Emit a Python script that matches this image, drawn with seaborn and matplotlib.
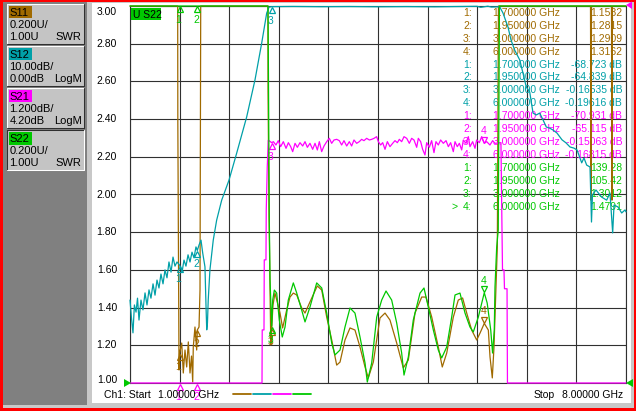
import numpy as np
import pandas as pd
import matplotlib
matplotlib.use("Agg")
import matplotlib.pyplot as plt
import matplotlib.transforms as mtransforms
from matplotlib.patches import Rectangle, Polygon
from matplotlib.lines import Line2D
import seaborn as sns

# ---------------------------------------------------------------- data
freq_grid = [1.0, 1.7, 2.4, 3.1, 3.8, 4.5, 5.2, 5.9, 6.6, 7.3, 8.0]
swr_ticks = [1.00, 1.20, 1.40, 1.60, 1.80, 2.00, 2.20, 2.40, 2.60, 2.80, 3.00]
swr_labels = ["1.00", "1.20", "1.40", "1.60", "1.80", "2.00", "2.20", "2.40", "2.60", "2.80", "3.00"]

trace_names = ["S11", "S12", "S21", "S22"]
trace_scale = ["0.200U/", "10.00dB/", "1.200dB/", "0.200U/"]
trace_ref = ["1.00U", "0.00dB", "4.20dB", "1.00U"]
trace_format = ["SWR", "LogM", "LogM", "SWR"]

marker_freq = [1.7, 1.95, 3.0, 6.0]
s11_marker = [1.1582, 1.2815, 1.2909, 1.3162]
s12_marker = [-68.723, -64.839, -0.16535, -0.19616]
s21_marker = [-70.931, -65.115, -0.15063, -0.16815]
s22_marker = [139.28, 105.42, 1.3012, 1.4791]

s11_freq = [1.000, 1.400, 1.673, 1.675, 1.692, 1.700, 1.730, 1.752, 1.776, 1.800,
            1.823, 1.847, 1.868, 1.885, 1.893, 1.917, 1.941, 1.950, 1.974, 1.988,
            1.998, 2.500, 2.946, 2.948, 2.962, 2.976, 2.987, 3.000, 3.018, 3.046,
            3.089, 3.117, 3.154, 3.211, 3.258, 3.305, 3.353, 3.423, 3.470, 3.540,
            3.643, 3.706, 3.776, 3.847, 3.917, 3.964, 4.034, 4.105, 4.175, 4.246,
            4.317, 4.363, 4.434, 4.528, 4.599, 4.669, 4.764, 4.857, 4.928, 5.022,
            5.117, 5.177, 5.258, 5.351, 5.407, 5.470, 5.563, 5.633, 5.694, 5.752,
            5.822, 5.893, 5.940, 6.000, 6.057, 6.081, 6.113, 6.137, 6.165, 6.184,
            6.200, 7.000, 7.499, 7.506, 7.513, 7.795, 7.802, 7.809, 8.000]
s11_swr = [9.0, 7.0, 4.0, 2.385, 1.069, 1.1582, 1.212, 1.053, 1.175, 1.085,
           1.218, 1.053, 1.143, 1.005, 1.191, 1.297, 1.175, 1.2815, 1.297, 1.493,
           4.0, 6.0, 4.0, 2.554, 1.891, 1.509, 1.202, 1.2909, 1.414, 1.477,
           1.414, 1.371, 1.292, 1.387, 1.456, 1.477, 1.467, 1.398, 1.371, 1.430,
           1.515, 1.493, 1.350, 1.228, 1.095, 1.111, 1.228, 1.292, 1.281, 1.191,
           1.085, 1.027, 1.111, 1.345, 1.371, 1.334, 1.212, 1.080, 1.122, 1.371,
           1.456, 1.456, 1.350, 1.191, 1.085, 1.159, 1.350, 1.440, 1.451, 1.371,
           1.281, 1.228, 1.265, 1.3162, 1.281, 1.138, 1.027, 1.191, 1.509, 1.721,
           4.0, 5.0, 5.0, 1.97, 5.0, 5.0, 1.97, 5.0, 5.0]

s12_freq = [1.000, 1.021, 1.042, 1.062, 1.085, 1.106, 1.127, 1.155, 1.183, 1.212,
            1.240, 1.268, 1.296, 1.325, 1.353, 1.381, 1.409, 1.437, 1.466, 1.494,
            1.522, 1.550, 1.579, 1.607, 1.635, 1.663, 1.700, 1.734, 1.762, 1.790,
            1.819, 1.847, 1.875, 1.903, 1.931, 1.950, 1.974, 2.002, 2.026, 2.058,
            2.073, 2.083, 2.093, 2.104, 2.128, 2.175, 2.223, 2.294, 2.397, 2.506,
            2.647, 2.764, 2.859, 2.929, 2.962, 3.000, 3.300, 3.700, 4.100, 4.500,
            4.900, 5.300, 5.700, 5.900, 5.950, 6.000, 6.050, 6.100, 6.217, 6.264,
            6.335, 6.377, 6.429, 6.500, 6.546, 6.593, 6.641, 6.688, 6.734, 6.782,
            6.829, 6.875, 6.923, 6.970, 7.026, 7.097, 7.153, 7.210, 7.266, 7.309,
            7.375, 7.407, 7.445, 7.492, 7.513, 7.527, 7.576, 7.657, 7.727, 7.774,
            7.812, 7.831, 7.887, 7.939, 7.986, 8.000]
s12_db = [-78.0, -82.8, -86.7, -79.3, -81.2, -77.5, -83.3, -78.0, -80.6, -76.1,
          -79.3, -75.3, -77.5, -73.7, -76.7, -72.7, -74.8, -71.1, -73.7, -70.0,
          -72.1, -67.9, -70.6, -66.6, -69.0, -67.9, -68.723, -70.6, -67.4, -69.0,
          -66.0, -67.9, -65.3, -66.8, -63.9, -64.839, -63.4, -62.1, -65.5, -69.2,
          -79.8, -85.9, -84.1, -78.0, -70.0, -62.1, -56.8, -51.5, -46.2, -39.0,
          -29.4, -19.6, -9.8, -1.9, -0.3, -0.16535, -0.12, -0.18, -0.14, -0.20,
          -0.15, -0.21, -0.12, -0.08, -0.35, -0.19616, -0.05, -0.28, -0.2, -1.86,
          -5.6, -9.0, -11.7, -14.3, -17.8, -21.5, -22.8, -28.4, -28.9, -28.4,
          -30.2, -32.1, -32.4, -32.9, -33.7, -35.5, -36.3, -37.4, -37.7, -38.2,
          -41.6, -40.3, -42.2, -42.7, -57.3, -50.1, -48.8, -50.7, -51.5, -49.6,
          -60.2, -52.8, -53.3, -54.9, -54.1, -54.6]

s21_freq = [1.000, 1.400, 1.700, 1.950, 2.400, 2.800, 2.863, 2.866, 2.891, 2.895,
            2.919, 2.923, 2.937, 2.952, 3.000,
            3.023, 3.060, 3.093, 3.126, 3.164, 3.202, 3.235, 3.268, 3.296, 3.329,
            3.362, 3.399, 3.437, 3.470, 3.503, 3.540, 3.578, 3.611, 3.644, 3.672,
            3.705, 3.738, 3.776, 3.813, 3.846, 3.879, 3.917, 3.954, 3.987, 4.020,
            4.058, 4.095, 4.128, 4.161, 4.199, 4.236, 4.269, 4.302, 4.340, 4.378,
            4.411, 4.444, 4.481, 4.505, 4.538, 4.566, 4.599, 4.632, 4.669, 4.707,
            4.740, 4.773, 4.801, 4.834, 4.867, 4.905, 4.942, 4.975, 5.008, 5.046,
            5.069, 5.102, 5.130, 5.163, 5.187, 5.224, 5.257, 5.290, 5.318, 5.351,
            5.384, 5.422, 5.460, 5.493, 5.525, 5.563, 5.587, 5.619, 5.648, 5.681,
            5.704, 5.742, 5.775, 5.798, 5.836, 5.869, 5.892, 5.930, 5.963,
            6.000, 6.034, 6.080, 6.118, 6.151, 6.235, 6.250, 6.257, 6.278, 6.285,
            6.321, 6.327, 7.000, 8.000]
s21_db = [-80.0, -75.0, -70.931, -65.115, -40.0, -12.0, -9.0, -6.11, -6.11, -3.88,
          -3.88, -2.29, -0.92, -0.07, -0.15063,
          -0.118, -0.224, -0.086, -0.277, -0.118, -0.330, -0.150, -0.277, -0.436, -0.171,
          -0.298, -0.150, -0.256, -0.118, -0.298, -0.171, -0.362, -0.171, -0.383, -0.118,
          -0.436, -0.256, -0.118, -0.012, -0.171, -0.065, -0.044, -0.086, -0.224, -0.086,
          -0.256, -0.118, -0.256, -0.065, -0.171, -0.118, -0.044, -0.086, -0.012, -0.065,
          -0.044, -0.012, 0.041, -0.118, -0.224, -0.150, -0.362, -0.118, -0.277, -0.171,
          -0.086, -0.150, -0.044, -0.118, 0.041, -0.012, -0.171, -0.012, -0.065, -0.298,
          -0.012, -0.118, -0.362, -0.542, -0.150, -0.298, -0.086, -0.468, -0.118, -0.224,
          -0.065, -0.171, -0.086, -0.277, -0.150, -0.436, -0.118, -0.277, -0.171, -0.383,
          -0.065, -0.171, 0.041, -0.277, -0.118, -0.330, -0.065, -0.150, 0.041,
          -0.16815, -0.118, -0.224, -0.086, -0.171, -0.15, -2.93, -4.20, -4.20, -4.80,
          -4.80, -9.0, -40.0, -50.0]

s22_freq = [1.000, 1.300, 1.700, 1.950, 2.400, 2.800, 2.948, 2.966, 2.976, 3.000,
            3.014, 3.037, 3.070, 3.107, 3.149, 3.188, 3.234, 3.305, 3.353, 3.423,
            3.470, 3.540, 3.635, 3.706, 3.776, 3.847, 3.893, 3.964, 4.034, 4.105,
            4.175, 4.246, 4.317, 4.349, 4.411, 4.482, 4.552, 4.613, 4.693, 4.764,
            4.834, 4.867, 4.928, 4.998, 5.093, 5.149, 5.210, 5.281, 5.351, 5.399,
            5.470, 5.540, 5.587, 5.657, 5.728, 5.798, 5.845, 5.916, 6.000, 6.041,
            6.091, 6.117, 6.141, 6.151, 6.175, 6.197, 6.214, 6.600, 7.200, 8.000]
s22_swr = [180.0, 165.0, 139.28, 105.42, 60.0, 20.0, 6.0, 1.865, 1.546, 1.3012,
           1.440, 1.493, 1.477, 1.334, 1.244, 1.297, 1.440, 1.531, 1.477, 1.387,
           1.324, 1.403, 1.531, 1.504, 1.371, 1.212, 1.149, 1.175, 1.297, 1.398,
           1.371, 1.244, 1.106, 1.005, 1.106, 1.350, 1.440, 1.488, 1.440, 1.318,
           1.159, 1.042, 1.138, 1.334, 1.477, 1.504, 1.403, 1.281, 1.175, 1.133,
           1.191, 1.350, 1.467, 1.477, 1.371, 1.297, 1.271, 1.350, 1.4791, 1.424,
           1.281, 1.159, 1.281, 1.509, 1.721, 1.812, 8.0, 15.0, 25.0, 30.0]

# ---------------------------------------------------------------- style
sns.set_style("white")
plt.rcParams["font.family"] = ["Liberation Sans", "DejaVu Sans"]
plt.rcParams["font.size"] = 7.5

BROWN, TEAL, MAGENTA, GREEN = "#A06A00", "#00A0A8", "#FF00FF", "#00C800"
GRID = "#303030"
FS = 7.5

W, H = 636, 411
fig = plt.figure(figsize=(W / 100, H / 100), dpi=100, facecolor="white")
PX = mtransforms.Affine2D().scale(1 / W, -1 / H).translate(0, 1) + fig.transFigure


def rect(x, y, w, h, color, z=-1.0, ec="none", lw=0):
    fig.add_artist(Rectangle((x, y), w, h, transform=PX, facecolor=color,
                             edgecolor=ec, lw=lw, zorder=z))


def hline(x1, x2, y, color, lw=0.75, z=-0.2):
    fig.add_artist(Line2D([x1, x2], [y, y], transform=PX, color=color, lw=lw, zorder=z))


def vline(x, y1, y2, color, lw=0.75, z=-0.2):
    fig.add_artist(Line2D([x, x], [y1, y2], transform=PX, color=color, lw=lw, zorder=z))


# window frame
rect(0, 0, W, H, "#FF0000", z=-3)
rect(2.5, 2.5, 631, 405, "#C8C8C8", z=-2.5)
rect(3, 3, 627.5, 400, "white", z=-2)
# left panel
rect(2.5, 2.5, 84, 402, "#808080", z=-1.5)
rect(86.5, 2.5, 5, 402, "#C8C8C8", z=-1.5)
label_bg = [BROWN, TEAL, MAGENTA, GREEN]
for i in range(4):
    y0 = 4 + 42 * i
    rect(7, y0, 77, 40, "#C4C4C4", z=-1.0)
    hi_c, lo_c = ("white", "#303030") if i < 3 else ("#303030", "white")
    hline(7, 84, y0, hi_c)
    vline(7, y0, y0 + 40, hi_c)
    hline(7, 84, y0 + 40, lo_c)
    vline(84, y0, y0 + 40, lo_c)
    rect(8.5, y0 + 2, 23, 12.5, label_bg[i], z=-0.5)
    fig.text(9.5, y0 + 8.5, trace_names[i], transform=PX, fontsize=8, va="center", ha="left", color="black")
    fig.text(9.5, y0 + 21, trace_scale[i], transform=PX, fontsize=8, va="center", ha="left", color="black")
    fig.text(9.5, y0 + 32.5, trace_ref[i], transform=PX, fontsize=8, va="center", ha="left", color="black")
    fig.text(81.5, y0 + 32.5, trace_format[i], transform=PX, fontsize=8, va="center", ha="right", color="black")

# ---------------------------------------------------------------- axes
L, R, T, B = 130, 626, 6, 383
ax = fig.add_axes([L / W, 1 - B / H, (R - L) / W, (B - T) / H])
ax.set_facecolor("white")
ax.set_xlim(1.0, 8.0)
ax.set_ylim(1.0, 3.0)
ax.set_xticks(freq_grid)
ax.set_yticks(swr_ticks)
ax.tick_params(length=0, labelbottom=False, labelleft=False)
ax.grid(True, color=GRID, lw=0.8)
for sp in ax.spines.values():
    sp.set_color(GRID)
    sp.set_linewidth(0.8)
for v, lab in zip(swr_ticks, swr_labels):
    if v == swr_ticks[-1]:
        va, dy = "top", -1
    elif v == swr_ticks[0]:
        va, dy = "center", 3
    else:
        va, dy = "center", 0
    ax.annotate(lab, (0, v), xycoords=("axes fraction", "data"), xytext=(-13, dy),
                textcoords="offset pixels", ha="right", va=va, fontsize=FS,
                color="black", annotation_clip=False)

# marker readout table (below traces)
tables = [(s11_marker, "", BROWN), (s12_marker, " dB", TEAL),
          (s21_marker, " dB", MAGENTA), (s22_marker, "", GREEN)]
row = 0
for ti, (vals, unit, col) in enumerate(tables):
    for k, (f, v) in enumerate(zip(marker_freq, vals)):
        y = 12.7 + 12.95 * row
        if ti == 3 and k == 3:
            ax.text(452, y, ">", transform=PX, color=col, fontsize=FS, va="center", ha="left")
        ax.text(463, y, f"{k + 1}:", transform=PX, color=col, fontsize=FS, va="center", ha="left")
        ax.text(493, y, f"{f:.6f} GHz", transform=PX, color=col, fontsize=FS, va="center", ha="left")
        ax.text(622, y, f"{v:.5g}{unit}", transform=PX, color=col, fontsize=FS, va="center", ha="right")
        row += 1


def trace(freq, vals, lo, hi, color):
    tw = ax.twinx()
    df = pd.DataFrame({"freq": freq, "value": np.clip(np.asarray(vals, float), lo, hi)})
    sns.lineplot(data=df, x="freq", y="value", ax=tw, color=color, linewidth=0.9,
                 estimator=None, sort=False, clip_on=False, legend=False)
    tw.set_ylim(lo, hi)
    tw.set_xlim(1.0, 8.0)
    tw.set_axis_off()
    return tw


def markers(tw, vals, lo, hi, color, skip=()):
    for k, (f, v) in enumerate(zip(marker_freq, vals)):
        if k in skip:
            continue
        vc = min(max(v, lo), hi)
        if k == 3:
            tr = mtransforms.offset_copy(tw.transData, fig=fig, x=0, y=3.5, units="dots")
            tw.plot([f], [vc], marker="v", ms=5, mfc="none", mec=color, mew=0.9,
                    transform=tr, clip_on=False)
            tw.annotate(str(k + 1), (f, vc), xytext=(-1, 12), textcoords="offset pixels",
                        ha="center", va="center", color=color, fontsize=FS, annotation_clip=False)
        else:
            tr = mtransforms.offset_copy(tw.transData, fig=fig, x=0, y=-3.5, units="dots")
            tw.plot([f], [vc], marker="^", ms=5, mfc="none", mec=color, mew=0.9,
                    transform=tr, clip_on=False)
            tw.annotate(str(k + 1), (f, vc), xytext=(-1, -14), textcoords="offset pixels",
                        ha="center", va="center", color=color, fontsize=FS, annotation_clip=False)


t11 = trace(s11_freq, s11_swr, 1.0, 3.0, BROWN)
t12 = trace(s12_freq, s12_db, -100.0, 0.0, TEAL)
t21 = trace(s21_freq, s21_db, -7.8, 4.2, MAGENTA)
t22 = trace(s22_freq, s22_swr, 1.0, 3.0, GREEN)
markers(t11, s11_marker, 1.0, 3.0, BROWN)
markers(t12, s12_marker, -100.0, 0.0, TEAL, skip=(3,))
markers(t21, s21_marker, -7.8, 4.2, MAGENTA)
markers(t22, s22_marker, 1.0, 3.0, GREEN)
ax.set_xlabel("")
ax.set_ylabel("")

# active trace tag
rect(131, 8, 30, 12.5, GREEN, z=5)
fig.text(133, 14.5, "U S22", transform=PX, fontsize=FS, va="center", ha="left", color="black", zorder=6)

# reference pointers
fig.add_artist(Polygon([(124, 379), (124, 387), (131, 383)], closed=True, transform=PX,
                       facecolor=GREEN, edgecolor="none", zorder=5))
fig.add_artist(Polygon([(633, 379), (633, 387), (626, 383)], closed=True, transform=PX,
                       facecolor=GREEN, edgecolor="none", zorder=5))
fig.add_artist(Polygon([(632, 1.5), (632, 9), (626, 5)], closed=True, transform=PX,
                       facecolor=MAGENTA, edgecolor="none", zorder=5))

# status line
fig.text(151, 395, "Ch1: Start", transform=PX, fontsize=FS, va="center", ha="right", color="black")
fig.text(158, 395, "1.00000 GHz", transform=PX, fontsize=FS, va="center", ha="left", color="black")
fig.text(534, 395, "Stop", transform=PX, fontsize=FS, va="center", ha="left", color="black")
fig.text(623, 395, "8.00000 GHz", transform=PX, fontsize=FS, va="center", ha="right", color="black")
for x0, col in zip([233, 253, 273, 293], [BROWN, TEAL, MAGENTA, GREEN]):
    hline(x0, x0 + 18, 394, col, lw=1.3, z=5)

fig.savefig("out.png", dpi=100, facecolor="white")
